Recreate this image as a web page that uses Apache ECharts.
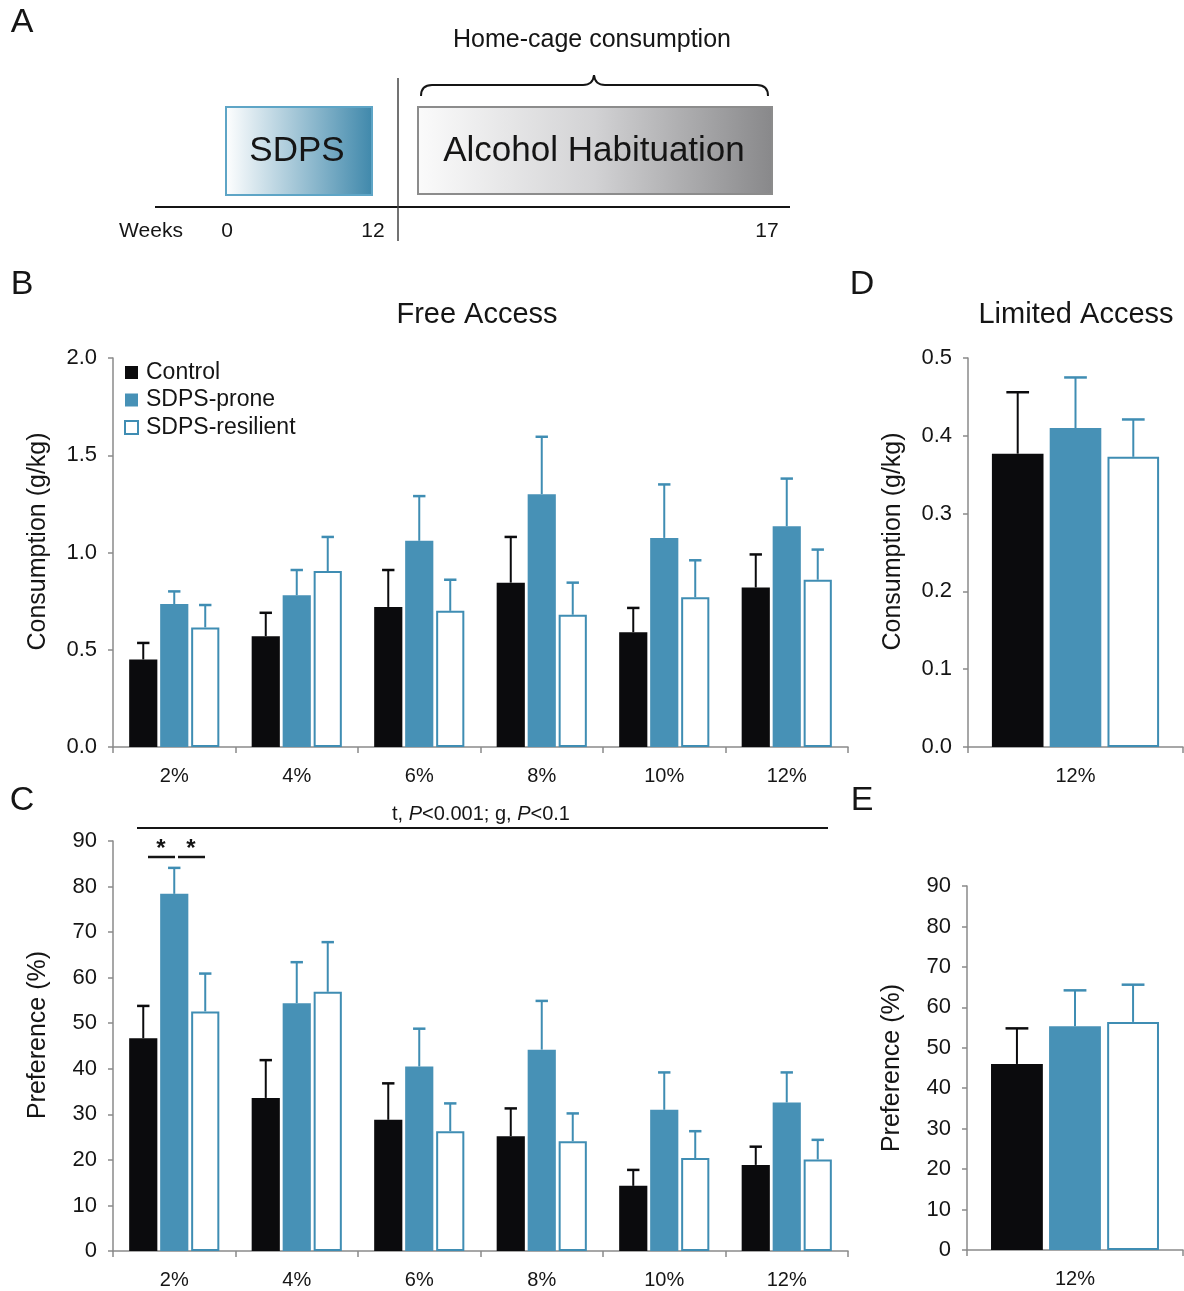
<!DOCTYPE html>
<html>
<head>
<meta charset="utf-8">
<script src="https://cdn.jsdelivr.net/npm/echarts@6/dist/echarts.min.js"></script>
<style>
html,body{margin:0;padding:0;background:#fff;}
#chart{width:1184px;height:1291px;}
</style>
</head>
<body>
<div id="chart"></div>
<script>
// ---------- DATA ----------
const categories = ['2%', '4%', '6%', '8%', '10%', '12%'];
const seriesNames = ['Control', 'SDPS-prone', 'SDPS-resilient'];

// Panel B: Free access consumption (g/kg), mean and SEM
const freeConsControl = [0.45, 0.57, 0.72, 0.845, 0.59, 0.82];
const freeConsControlErr = [0.085, 0.12, 0.19, 0.235, 0.125, 0.17];
const freeConsProne = [0.735, 0.78, 1.06, 1.30, 1.075, 1.135];
const freeConsProneErr = [0.065, 0.13, 0.23, 0.295, 0.275, 0.245];
const freeConsResilient = [0.615, 0.905, 0.70, 0.68, 0.77, 0.86];
const freeConsResilientErr = [0.115, 0.175, 0.16, 0.165, 0.19, 0.155];

// Panel C: Free access preference (%)
const freePrefControl = [46.7, 33.6, 28.8, 25.2, 14.3, 18.9];
const freePrefControlErr = [7.1, 8.3, 8.0, 6.1, 3.5, 4.0];
const freePrefProne = [78.4, 54.4, 40.5, 44.2, 31.0, 32.6];
const freePrefProneErr = [5.7, 9.0, 8.3, 10.7, 8.2, 6.6];
const freePrefResilient = [52.6, 56.9, 26.3, 24.1, 20.4, 20.1];
const freePrefResilientErr = [8.3, 10.9, 6.1, 6.1, 5.9, 4.3];

// Panel D / E: Limited access (12%)
const limitedCategories = ['12%'];
const limConsMeans = [0.377, 0.410, 0.373];
const limConsErr = [0.079, 0.065, 0.048];
const limPrefMeans = [46.0, 55.3, 56.4];
const limPrefErr = [8.8, 8.9, 9.2];

// Axis ticks
const consTicks = {min: 0, max: 2.0, interval: 0.5};
const limConsTicks = {min: 0, max: 0.5, interval: 0.1};
const prefTicks = {min: 0, max: 90, interval: 10};

// Timeline (panel A)
const weekLabels = ['0', '12', '17'];

// ---------- STYLE ----------
const FONT = 'Liberation Sans';
const BLACK = '#0b0b0d';
const BLUE = '#4791b6';
const BLUE_LINE = '#3f8db3';
const AXIS = '#8a8a8a';
const TXT = '#151515';

const chart = echarts.init(document.getElementById('chart'), null, {renderer: 'canvas'});

function errRenderer(idx, bwRatio, gapRatio, color) {
  return function (params, api) {
    const cat = api.value(0), v = api.value(1), e = api.value(2);
    const base = api.coord([cat, v]);
    const top = api.coord([cat, v + e]);
    const band = api.size([1, 0])[0];
    const bw = band * bwRatio;
    const x = base[0] + (idx - 1) * bw * (1 + gapRatio);
    const cap = bw * 0.22;
    return {
      type: 'group',
      children: [
        {type: 'line', shape: {x1: x, y1: base[1], x2: x, y2: top[1]}, style: {stroke: color, lineWidth: 2}},
        {type: 'line', shape: {x1: x - cap, y1: top[1], x2: x + cap, y2: top[1]}, style: {stroke: color, lineWidth: 2.5}}
      ]
    };
  };
}

const barStyles = [
  {color: BLACK},
  {color: BLUE},
  {color: '#ffffff', borderColor: BLUE_LINE, borderWidth: 2}
];
const errColors = [BLACK, BLUE_LINE, BLUE_LINE];

function makePanelSeries(gridIdx, means, errs, bwPct, gapPct) {
  const out = [];
  for (let i = 0; i < 3; i++) {
    out.push({
      name: seriesNames[i], type: 'bar', xAxisIndex: gridIdx, yAxisIndex: gridIdx,
      data: means[i], barWidth: bwPct + '%', barGap: gapPct + '%',
      itemStyle: barStyles[i], z: 2, silent: true
    });
  }
  for (let i = 0; i < 3; i++) {
    out.push({
      name: 'err' + i, type: 'custom', xAxisIndex: gridIdx, yAxisIndex: gridIdx,
      renderItem: errRenderer(i, bwPct / 100, gapPct / 100, errColors[i]),
      data: means[i].map((m, k) => [k, m, errs[i][k]]),
      encode: {x: 0, y: 1}, z: 3, silent: true
    });
  }
  return out;
}

function xAxisCfg(gridIdx, data) {
  return {
    type: 'category', gridIndex: gridIdx, data: data,
    axisLine: {lineStyle: {color: AXIS, width: 1.5}},
    axisTick: {show: true, length: 6, lineStyle: {color: AXIS, width: 1.5}},
    axisLabel: {color: TXT, fontSize: 20, fontFamily: FONT, margin: 19}
  };
}
function yAxisCfg(gridIdx, ticks, name, decimals, shiftUp) {
  return {
    type: 'value', gridIndex: gridIdx, min: ticks.min, max: ticks.max, interval: ticks.interval,
    name: name, nameLocation: 'middle', nameGap: 62,
    nameTextStyle: {color: TXT, fontSize: 25, fontFamily: FONT, padding: [0, 0, 0, shiftUp * 2]},
    axisLine: {show: true, lineStyle: {color: AXIS, width: 1.5}},
    axisTick: {show: true, length: 5, lineStyle: {color: AXIS, width: 1.5}},
    splitLine: {show: false},
    axisLabel: {color: TXT, fontSize: 22, fontFamily: FONT, margin: 16,
      formatter: v => decimals ? v.toFixed(decimals) : String(Math.round(v))}
  };
}

function txt(t, x, y, size, extra) {
  return {
    type: 'text', x: x, y: y, z: 20, silent: true,
    style: Object.assign({text: t, fontSize: size, fontFamily: FONT, fill: TXT, align: 'center', verticalAlign: 'middle'}, extra || {})
  };
}
function line(x1, y1, x2, y2, w, c) {
  return {type: 'line', z: 20, silent: true, shape: {x1, y1, x2, y2}, style: {stroke: c || TXT, lineWidth: w}};
}
function curve(x1, y1, cx, cy, x2, y2, w) {
  return {type: 'bezierCurve', z: 20, silent: true, shape: {x1, y1, x2, y2, cpx1: cx, cpy1: cy},
    style: {stroke: TXT, lineWidth: w, fill: null}};
}

const graphics = [
  // panel letters
  txt('A', 22, 23, 34), txt('B', 22, 285, 34), txt('C', 22, 801, 34),
  txt('D', 862, 285, 34), txt('E', 862, 801, 34),
  // timeline
  {type: 'rect', z: 15, silent: true, shape: {x: 226, y: 107, width: 146, height: 88},
    style: {fill: new echarts.graphic.LinearGradient(0, 0, 1, 0, [{offset: 0, color: '#ffffff'}, {offset: 1, color: '#3f88ab'}]),
      stroke: '#5ea5c6', lineWidth: 2}},
  {type: 'rect', z: 15, silent: true, shape: {x: 418, y: 107, width: 354, height: 87},
    style: {fill: new echarts.graphic.LinearGradient(0, 0, 1, 0, [{offset: 0, color: '#fbfbfb'}, {offset: 0.5, color: '#d2d2d4'}, {offset: 1, color: '#88888a'}]),
      stroke: '#8c8c8c', lineWidth: 2}},
  txt('SDPS', 297, 151, 35),
  txt('Alcohol Habituation', 594, 151, 35),
  line(155, 207, 790, 207, 2.2),
  line(398, 78, 398, 241, 1.5, '#444'),
  txt('Weeks', 151, 231, 21),
  txt(weekLabels[0], 227, 231, 21),
  txt(weekLabels[1], 373, 231, 21),
  txt(weekLabels[2], 767, 231, 21),
  txt('Home-cage consumption', 592, 40, 25),
  // brace
  curve(421, 96, 421, 85, 432, 85, 2),
  line(432, 85, 583, 85, 2),
  curve(583, 85, 593, 85, 594, 75, 2),
  curve(594, 75, 595, 85, 605, 85, 2),
  line(605, 85, 757, 85, 2),
  curve(757, 85, 768, 85, 768, 96, 2),
  // titles
  txt('Free Access', 477, 315, 29),
  txt('Limited Access', 1076, 315, 29),
  // significance annotations in C
  line(137, 828, 828, 828, 2),
  {type: 'text', x: 481, y: 814, z: 20, silent: true,
    style: {text: 't, {i|P}<0.001; g, {i|P}<0.1', fontSize: 20, fontFamily: FONT, fill: TXT,
      align: 'center', verticalAlign: 'middle',
      rich: {i: {fontStyle: 'italic', fontSize: 20, fontFamily: FONT, fill: TXT}}}},
  txt('*', 161, 849, 24, {fontWeight: 'bold'}),
  txt('*', 191, 849, 24, {fontWeight: 'bold'}),
  line(148, 857, 175, 857, 2.5),
  line(178, 857, 205, 857, 2.5)
];

const option = {
  backgroundColor: '#ffffff',
  animation: false,
  textStyle: {fontFamily: FONT},
  legend: {
    data: [
      {name: 'Control', itemStyle: {color: BLACK}},
      {name: 'SDPS-prone', itemStyle: {color: BLUE}},
      {name: 'SDPS-resilient', itemStyle: {color: '#ffffff', borderColor: BLUE_LINE, borderWidth: 2}}
    ],
    orient: 'vertical', left: 124, top: 361, itemWidth: 13, itemHeight: 13, itemGap: 4.5,
    icon: 'rect', selectedMode: false, padding: 0,
    textStyle: {color: TXT, fontSize: 23, fontFamily: FONT, padding: [0, 0, 0, 3]}
  },
  grid: [
    {left: 113, top: 358, width: 735, height: 389},
    {left: 113, top: 841, width: 735, height: 410},
    {left: 968, top: 358, width: 215, height: 389},
    {left: 967, top: 886, width: 216, height: 364}
  ],
  xAxis: [
    xAxisCfg(0, categories), xAxisCfg(1, categories),
    xAxisCfg(2, limitedCategories), xAxisCfg(3, limitedCategories)
  ],
  yAxis: [
    yAxisCfg(0, consTicks, 'Consumption (g/kg)', 1, 11),
    yAxisCfg(1, prefTicks, 'Preference (%)', 0, 11),
    yAxisCfg(2, limConsTicks, 'Consumption (g/kg)', 1, 11),
    yAxisCfg(3, prefTicks, 'Preference (%)', 0, 0)
  ],
  series: [].concat(
    makePanelSeries(0, [freeConsControl, freeConsProne, freeConsResilient],
      [freeConsControlErr, freeConsProneErr, freeConsResilientErr], 23, 10),
    makePanelSeries(1, [freePrefControl, freePrefProne, freePrefResilient],
      [freePrefControlErr, freePrefProneErr, freePrefResilientErr], 23, 10),
    makePanelSeries(2, limConsMeans.map(v => [v]), limConsErr.map(v => [v]), 24, 12),
    makePanelSeries(3, limPrefMeans.map(v => [v]), limPrefErr.map(v => [v]), 24, 12)
  ),
  graphic: graphics
};
chart.setOption(option);
</script>
</body>
</html>
